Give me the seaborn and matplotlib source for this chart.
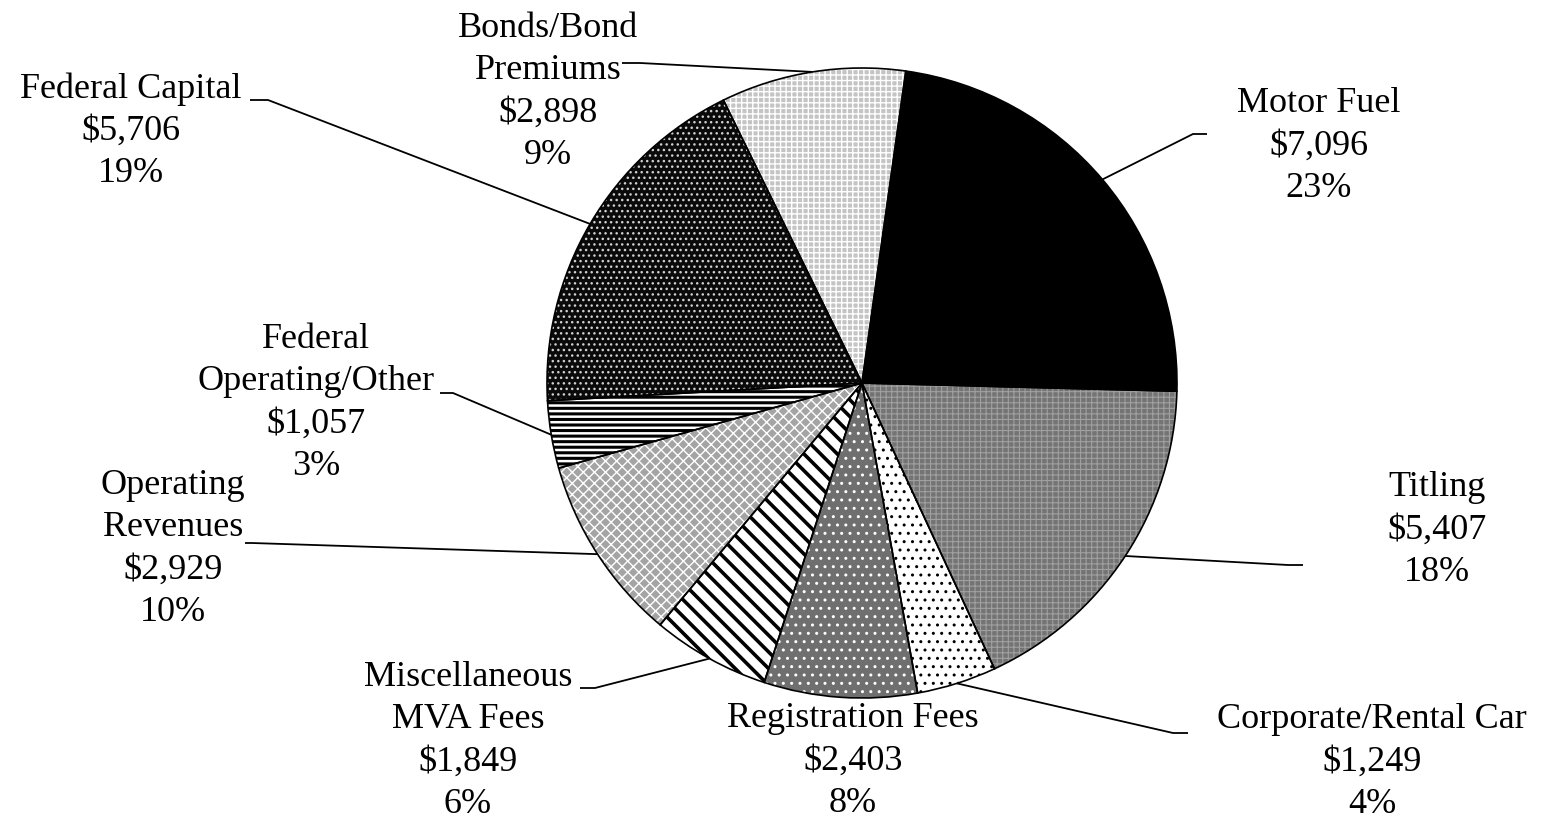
import numpy as np
import matplotlib
matplotlib.use("Agg")
import matplotlib.pyplot as plt
import seaborn as sns

# ---- data ----
categories = ["Motor Fuel", "Titling", "Corporate/Rental Car", "Registration Fees",
              "Miscellaneous\nMVA Fees", "Operating\nRevenues", "Federal\nOperating/Other",
              "Federal Capital", "Bonds/Bond\nPremiums"]
values = [7096, 5407, 1249, 2403, 1849, 2929, 1057, 5706, 2898]

# ---- styles ----
faces = ["#000000", "#747474", "#ffffff", "#6f6f6f", "#ffffff", "#a4a4a4", "#ffffff", "#0a0a0a", "#c4c4c4"]
hatches = [None, "+++", "..", "..", "\\\\", "xxx", "---", "...", "+++"]
hatch_colors = ["#000000", "#a0a0a0", "#000000", "#ffffff", "#000000", "#ffffff", "#000000", "#d0d0d0", "#ffffff"]
hatch_lws = [1.0, 0.8, 1.0, 1.0, 2.6, 1.0, 2.2, 1.0, 1.0]

# label layout (pixel coords, y from top): text center, leader elbow, leader stub end
label_pos = [(1319, 146), (1437, 530), (1372, 762), (853, 761), (468, 741),
             (173, 549), (316, 403), (131, 131), (548, 92)]
elbows = [(1193, 134), (1288, 565), (1173, 733), None, (595, 688),
          (252, 543), (453, 393), (268, 100), (640, 63)]
stubs = [(1207, 134), (1303, 565), (1188, 733), None, (580, 688),
         (245, 543), (440, 393), (250, 100), (622, 63)]

W, H = 1547, 824
sns.set_theme(style="white")
plt.rcParams["font.family"] = ["Liberation Serif", "DejaVu Serif"]

fig = plt.figure(figsize=(W / 100, H / 100), dpi=100)
ax = fig.add_axes([0, 0, 1, 1])

cx, cy, R = 862, H - 383, 315
startangle = 82

wedges, _ = ax.pie(values, startangle=startangle, counterclock=False,
                   center=(cx, cy), radius=R, colors=faces,
                   wedgeprops=dict(linewidth=0))
for w, h, hc, hl in zip(wedges, hatches, hatch_colors, hatch_lws):
    w.set_edgecolor(hc)
    w.set_linewidth(0)
    if h:
        w.set_hatch(h)
        if hasattr(w, "set_hatch_linewidth"):
            w.set_hatch_linewidth(hl)

# outlines
outl, _ = ax.pie(values, startangle=startangle, counterclock=False,
                 center=(cx, cy), radius=R, colors=["none"] * len(values),
                 wedgeprops=dict(linewidth=1.2, edgecolor="black", facecolor="none"))

total = sum(values)
for i, (cat, v) in enumerate(zip(categories, values)):
    pct = round(v / total * 100)
    txt = f"{cat}\n${v:,}\n{pct}%"
    lx, ly = label_pos[i]
    ax.text(lx, H - ly, txt, ha="center", va="center", fontsize=26,
            linespacing=1.37, color="black")
    if elbows[i] is not None:
        w = outl[i]
        mid = np.deg2rad((w.theta1 + w.theta2) / 2)
        px, py = cx + R * np.cos(mid), cy + R * np.sin(mid)
        ex, ey = elbows[i]
        sx, sy = stubs[i]
        ax.plot([px, ex, sx], [py, H - ey, H - sy], color="black", lw=1.3,
                solid_capstyle="butt", zorder=0.5)

ax.set_xlim(0, W)
ax.set_ylim(0, H)
ax.set_aspect("equal")
ax.axis("off")
fig.savefig("out.png", dpi=100, facecolor="white")
